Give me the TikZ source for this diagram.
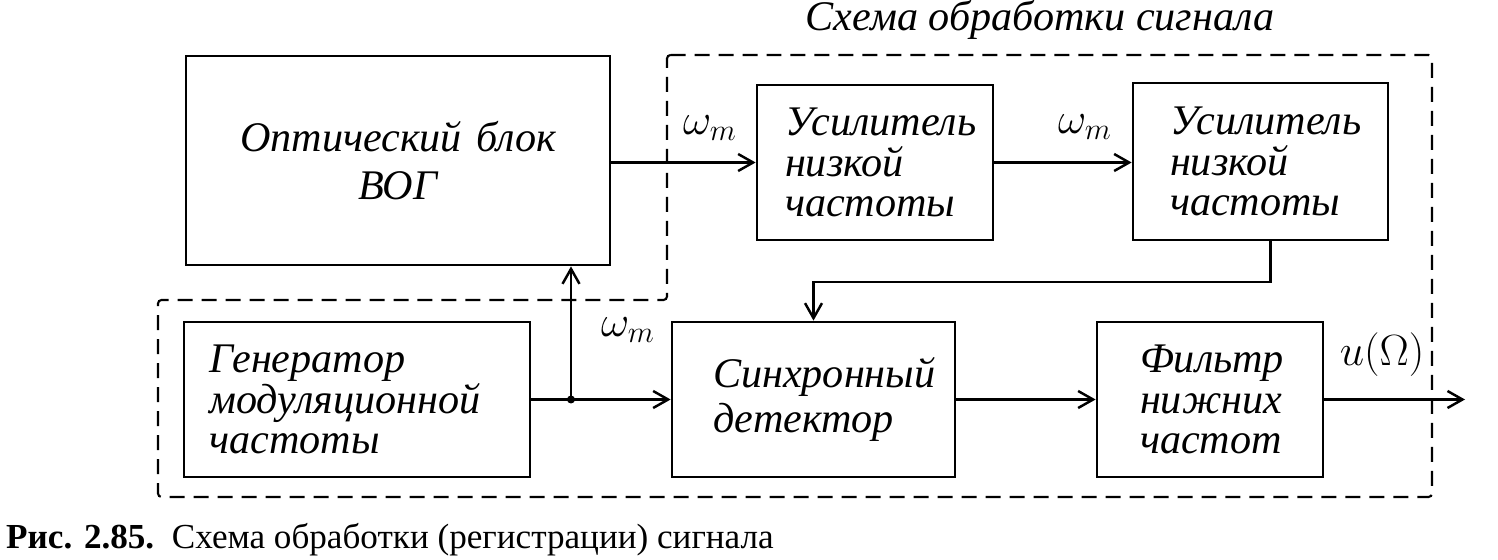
\documentclass[tikz,border=0pt]{standalone}
\usepackage{fontspec}
\setmainfont{Liberation Serif}
\usetikzlibrary{arrows.meta,calc}
\begin{document}
\begin{tikzpicture}[x=0.02cm,y=-0.02cm,
  blk/.style={draw,line width=1.6pt,rectangle,font=\fontsize{24}{23}\selectfont\itshape,align=left,inner ysep=0pt,minimum height=3.1cm},
  arr/.style={line width=1.6pt,-{Straight Barb[length=0.3cm,width=0.34cm,line width=1.4pt]}},
  ln/.style={line width=1.6pt},
  dsh/.style={line width=1.2pt,dash pattern=on 0.3cm off 0.18cm,rounded corners=2pt},
  lbl/.style={font=\fontsize{24}{24}\selectfont}]
\useasboundingbox (0,0) rectangle (1498,560);

% title
\node[lbl,font=\fontsize{24}{24}\selectfont\itshape] (title) at (1040,20) {Схема обработки сигнала};

% dashed boundary
\draw[dsh] (667,55) -- (1432,55) -- (1432,497) -- (158,497) -- (158,300) -- (667,300) -- cycle;

% blocks
\node[blk,align=center,font=\fontsize{24}{27}\selectfont\itshape,minimum height=4.18cm,inner xsep=0.3cm,text width=7.88cm] (opt) at (398,160.5) {Оптический блок\\ВОГ};
\node[blk,inner xsep=0.56cm,text width=3.6cm] (amp1) at (875,162.5) {Усилитель\\низкой\\частоты};
\node[blk,inner xsep=0.74cm,text width=3.62cm,minimum height=3.14cm] (amp2) at (1260.5,161.5) {Усилитель\\низкой\\частоты};
\node[blk,inner xsep=0.51cm,text width=5.9cm] (gen) at (357,399.5) {Генератор\\модуляционной\\частоты};
\node[blk,font=\fontsize{24}{26}\selectfont\itshape,inner xsep=0.82cm,text width=4.02cm] (det) at (813.5,399.5) {Синхронный\\детектор};
\node[blk,inner xsep=0.86cm,text width=2.8cm] (filt) at (1210,399.5) {Фильтр\\нижних\\частот};

% coordinates
\coordinate (bend) at (0,282);
\coordinate (j) at (571,399.5);
\coordinate (out) at (1465,399.5);

% connectors
\draw[arr] (amp1.west -| opt.east) -- (amp1.west);
\draw[arr] (amp1.east) -- (amp1.east -| amp2.west);
\draw[arr] ([xshift=0.2cm]amp2.south) -- ([xshift=0.2cm]amp2.south |- bend) -| (det.north);
\draw[arr] (gen.east) -- (det.west);
\fill (j) circle[radius=0.08cm];
\draw[arr] (j) -- (j |- opt.south);
\draw[arr] (det.east) -- (filt.west);
\draw[arr] (filt.east) -- (out);

% labels
\node[lbl] (w1) at (710,128) {$\omega_m$};
\node[lbl] (w2) at (1085,127) {$\omega_m$};
\node[lbl] (w3) at (628,330) {$\omega_m$};
\node[lbl] (u) at (1382,355) {$u(\Omega)$};

% caption
\node[anchor=west,font=\fontsize{20}{20}\selectfont] (cap) at (0,540) {\textbf{Рис. 2.85.}\ \ Схема обработки (регистрации) сигнала};
\end{tikzpicture}
\end{document}
